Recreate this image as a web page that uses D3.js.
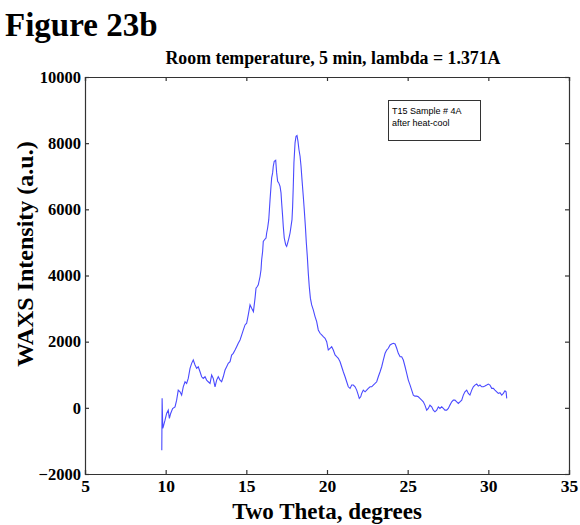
<!DOCTYPE html>
<html><head><meta charset="utf-8">
<script src="https://cdn.jsdelivr.net/npm/d3@7"></script>
<style>body{margin:0;background:#fff}svg{display:block}</style>
</head><body><svg id="c" width="580" height="525"></svg>
<script>
const twoTheta = [9.76,9.78,9.82,9.85,9.96,10.06,10.16,10.23,10.31,10.43,10.58,10.68,10.78,10.89,10.99,11.09,11.20,11.30,11.40,11.51,11.61,11.71,11.82,11.92,12.02,12.13,12.23,12.33,12.44,12.54,12.64,12.75,12.85,12.95,13.06,13.16,13.26,13.37,13.47,13.57,13.68,13.78,13.88,13.99,14.09,14.19,14.30,14.40,14.50,14.61,14.71,14.81,14.92,15.02,15.12,15.23,15.33,15.44,15.54,15.60,15.68,15.74,15.85,15.91,15.95,16.01,16.05,16.16,16.22,16.26,16.32,16.39,16.43,16.47,16.53,16.57,16.63,16.67,16.73,16.82,16.88,16.94,17.01,17.09,17.15,17.19,17.25,17.29,17.35,17.44,17.50,17.56,17.64,17.71,17.77,17.83,17.87,17.91,17.95,18.02,18.08,18.14,18.20,18.26,18.33,18.39,18.45,18.53,18.59,18.66,18.72,18.78,18.84,18.90,18.97,19.05,19.15,19.26,19.36,19.46,19.57,19.67,19.77,19.88,19.98,20.08,20.19,20.29,20.39,20.50,20.60,20.70,20.81,20.91,21.01,21.12,21.22,21.32,21.43,21.53,21.63,21.74,21.84,21.94,22.00,22.09,22.15,22.25,22.36,22.46,22.56,22.67,22.77,22.87,22.98,23.08,23.18,23.29,23.39,23.49,23.60,23.70,23.80,23.91,24.01,24.11,24.22,24.32,24.42,24.53,24.63,24.73,24.84,24.94,25.04,25.15,25.25,25.35,25.45,25.56,25.66,25.76,25.87,25.97,26.07,26.18,26.28,26.38,26.49,26.59,26.69,26.80,26.90,27.00,27.11,27.21,27.31,27.42,27.52,27.62,27.73,27.83,27.93,28.04,28.14,28.24,28.35,28.45,28.55,28.66,28.76,28.86,28.97,29.07,29.17,29.28,29.38,29.48,29.59,29.69,29.79,29.90,30.00,30.10,30.21,30.31,30.41,30.52,30.62,30.72,30.83,30.93,31.03,31.10,31.14];
const intensity = [-1280,290,-620,-575,-373,-170,-70,-320,-170,-20,30,233,536,485,385,636,788,739,890,1194,1345,1445,1294,1194,1242,1091,939,890,939,839,788,739,991,890,636,839,939,839,788,939,1142,1242,1345,1394,1597,1648,1748,1848,1951,2051,2200,2350,2506,2557,2809,3112,3012,2909,3315,3618,3666,3718,3969,4172,4475,4727,5030,5102,5133,5284,5436,5687,5990,6293,6696,6951,7102,7302,7454,7484,7102,6848,6799,6696,6496,6193,5787,5484,5133,4930,4878,4981,5133,5284,5484,5687,6090,6696,7405,8011,8211,8232,8060,7808,7605,7302,6899,6393,5990,5484,4981,4575,4072,3666,3315,3112,2960,2757,2606,2354,2254,2203,2151,2103,2000,1748,1800,1848,1748,1597,1545,1497,1394,1242,1091,939,788,636,588,688,688,636,536,385,285,333,436,536,485,536,588,636,636,688,739,788,939,1091,1242,1445,1648,1748,1800,1900,1930,1951,1930,1800,1648,1545,1545,1445,1242,1042,839,688,536,385,354,354,333,285,233,182,82,-70,-18,82,30,-70,-121,-70,30,-18,30,-18,-70,-70,-18,82,182,233,233,182,133,182,233,385,485,536,436,385,536,636,688,718,657,688,636,636,657,688,718,688,588,588,536,485,436,455,385,436,515,485,285];
const xTicks = [5,10,15,20,25,30,35];
const yTicks = [-2000,0,2000,4000,6000,8000,10000];
const figLabel = "Figure 23b";
const chartTitle = "Room temperature, 5 min, lambda = 1.371A";
const xLabel = "Two Theta, degrees";
const yLabel = "WAXS Intensity (a.u.)";
const legendLines = ["T15 Sample # 4A", "after heat-cool"];

const svg = d3.select("#c");
const L = 85, R = 569, T = 77, B = 474;
const x = d3.scaleLinear().domain([5,35]).range([L,R]);
const y = d3.scaleLinear().domain([-2000,10000]).range([B,T]);
const serif = "'Liberation Serif','Times New Roman',serif";

svg.append("text").attr("x",5).attr("y",36).attr("font-family",serif).attr("font-weight","bold")
  .attr("font-size",33).text(figLabel);
svg.append("text").attr("x",333).attr("y",64).attr("text-anchor","middle").attr("font-family",serif)
  .attr("font-weight","bold").attr("font-size",18).attr("textLength",335).attr("lengthAdjust","spacingAndGlyphs")
  .text(chartTitle);

// axes
const gx = svg.append("g").attr("transform",`translate(0,${B})`)
  .call(d3.axisBottom(x).tickValues(xTicks).tickSize(-4).tickPadding(8).tickFormat(d3.format("d")));
const gxt = svg.append("g").attr("transform",`translate(0,${T})`)
  .call(d3.axisTop(x).tickValues(xTicks).tickSize(-4).tickFormat(""));
const gy = svg.append("g").attr("transform",`translate(${L},0)`)
  .call(d3.axisLeft(y).tickValues(yTicks).tickSize(-4).tickPadding(4).tickFormat(d3.format("d")));
const gyr = svg.append("g").attr("transform",`translate(${R},0)`)
  .call(d3.axisRight(y).tickValues(yTicks).tickSize(-4).tickFormat(""));
[gx,gxt,gy,gyr].forEach(g=>{
  g.selectAll("path,line").attr("stroke","#333").attr("stroke-width",1.2);
  g.selectAll("text").attr("font-family",serif).attr("font-weight","bold").attr("font-size",16.5).attr("fill","#000");
});
gx.selectAll("text").attr("dy","0.55em").attr("font-size",17.5);

svg.append("text").attr("x",327).attr("y",519).attr("text-anchor","middle").attr("font-family",serif)
  .attr("font-weight","bold").attr("font-size",23).text(xLabel);
svg.append("text").attr("transform",`translate(33,254) rotate(-90)`).attr("text-anchor","middle")
  .attr("font-family",serif).attr("font-weight","bold").attr("font-size",24).text(yLabel);

// line
const pts = twoTheta.map((t,i)=>[t,intensity[i]]);
svg.append("path").datum(pts).attr("fill","none").attr("stroke","#4a4aff").attr("stroke-width",1.1)
  .attr("d", d3.line().x(d=>x(d[0])).y(d=>y(d[1])));

// legend
const lg = svg.append("g");
lg.append("rect").attr("x",388.5).attr("y",100.5).attr("width",92).attr("height",40)
  .attr("fill","#fff").attr("stroke","#333").attr("stroke-width",1);
legendLines.forEach((s,i)=>{
  lg.append("text").attr("x",392).attr("y",114+i*12).attr("font-family","'Liberation Sans',Arial,sans-serif")
    .attr("font-size",9).attr("fill","#000").text(s);
});
</script></body></html>
